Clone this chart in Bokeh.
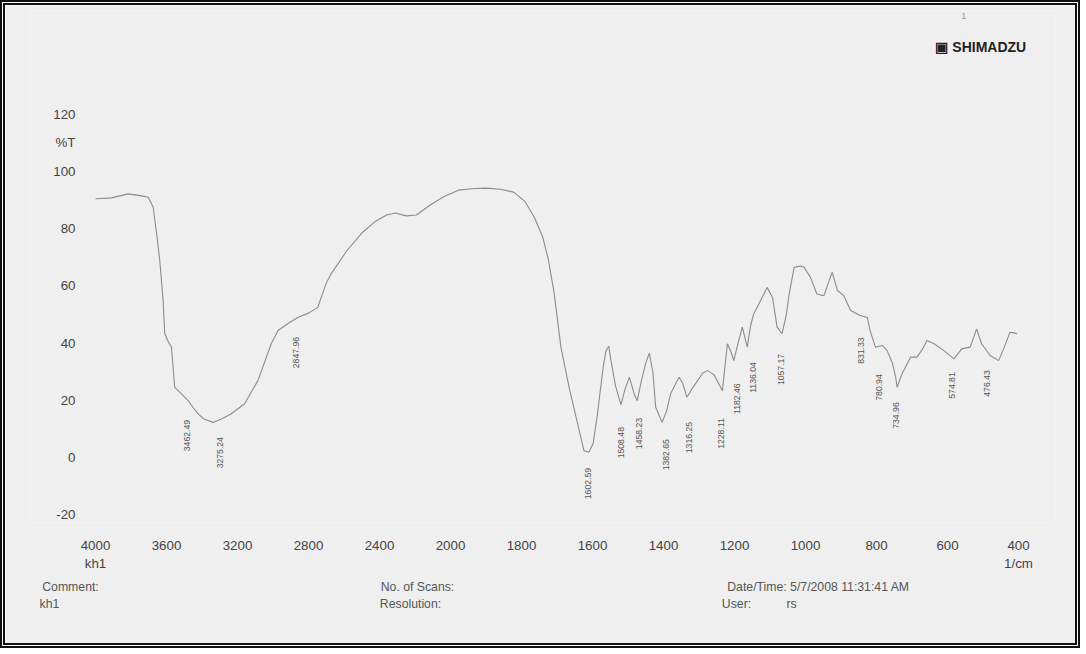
import math
from bokeh.plotting import figure
from bokeh.models import Label, FixedTicker, ColumnDataSource, Range1d, LinearAxis
from bokeh.core.properties import value
from bokeh.embed import file_html
from bokeh.resources import INLINE

# ---------------- data ----------------
wavenumber = [4000, 3910, 3816, 3740, 3703, 3675, 3655, 3638, 3619, 3610, 3590, 3572,
              3554, 3520, 3478, 3450, 3422, 3390, 3338, 3290, 3235, 3160, 3085, 3010,
              2972, 2900, 2860, 2800, 2748, 2700, 2672, 2583, 2500, 2425, 2360, 2309,
              2250, 2192, 2110, 2036, 1978, 1940, 1901, 1860, 1822, 1790, 1764, 1740,
              1725, 1708, 1689, 1665, 1638, 1624, 1610, 1598, 1586, 1570, 1562, 1554,
              1548, 1535, 1520, 1508, 1496, 1482, 1474, 1462, 1450, 1440, 1430, 1422,
              1404, 1392, 1380, 1366, 1356, 1346, 1334, 1320, 1304, 1290, 1276, 1258,
              1245, 1234, 1226, 1220, 1210, 1202, 1190, 1178, 1164, 1155, 1146, 1130,
              1108, 1093, 1080, 1066, 1054, 1046, 1032, 1015, 1004, 986, 968, 948,
              936, 925, 910, 892, 873, 846, 826, 818, 803, 784, 770, 755,
              746, 742, 728, 704, 686, 670, 658, 638, 610, 582, 560, 536,
              518, 504, 480, 456, 442, 424, 410, 404]
transmittance = [90.5, 90.8, 92.2, 91.5, 91.0, 87.5, 78.0, 68.9, 54.9, 43.3, 40.5, 38.6,
                 24.6, 22.5, 19.9, 17.5, 15.3, 13.5, 12.3, 13.5, 15.3, 18.8, 26.9, 39.8,
                 44.4, 47.5, 49.0, 50.5, 52.5, 61.0, 64.3, 72.4, 78.5, 82.5, 84.8, 85.5,
                 84.5, 84.8, 88.5, 91.3, 93.5, 94.0, 94.2, 93.8, 92.8, 89.5, 84.0, 77.0,
                 69.6, 57.5, 38.6, 24.0, 9.8, 2.4, 1.9, 5.0, 15.3, 31.6, 37.4, 38.9,
                 33.9, 25.0, 18.5, 24.0, 28.1, 22.0, 19.9, 27.0, 33.0, 36.5, 30.0, 17.6,
                 12.3, 16.0, 22.3, 25.8, 28.1, 26.0, 21.1, 24.0, 26.9, 29.5, 30.4, 29.0,
                 26.0, 23.4, 33.0, 39.8, 37.0, 33.9, 40.0, 45.6, 38.6, 46.0, 50.2, 54.0,
                 59.5, 56.0, 45.6, 43.3, 50.0, 57.2, 66.5, 67.0, 66.5, 63.0, 57.2, 56.6,
                 61.0, 64.8, 58.4, 56.6, 51.4, 49.7, 49.0, 44.4, 38.6, 39.2, 37.4, 33.0,
                 28.1, 24.6, 29.3, 35.1, 35.1, 38.0, 40.9, 39.8, 37.4, 34.5, 38.0, 38.6,
                 45.0, 39.8, 35.7, 33.9, 38.0, 43.8, 43.5, 43.3]

peak_labels = ["3462.49", "3275.24", "2847.96", "1602.59", "1508.48", "1458.23",
               "1382.65", "1316.25", "1228.11", "1182.46", "1136.04", "1057.17",
               "831.33", "780.94", "734.96", "574.81", "476.43"]
peak_label_level = [7.7, 1.7, 36.7, -9.1, 5.2, 8.4, 1.0, 7.0, 8.4, 20.6, 28.0, 30.8,
                    37.4, 24.5, 14.7, 25.2, 25.9]

x_tick_values = [4000, 3600, 3200, 2800, 2400, 2000, 1800, 1600, 1400, 1200, 1000, 800, 600, 400]
x_tick_labels = ["4000\nkh1", "3600", "3200", "2800", "2400", "2000", "1800", "1600",
                 "1400", "1200", "1000", "800", "600", "400\n1/cm"]
y_tick_values = [-20, 0, 20, 40, 60, 80, 100, 110, 120]
y_tick_labels = ["-20", "0", "20", "40", "60", "80", "100", "%T", "120"]

footer_line1 = ["Comment:", "No. of Scans:", "Date/Time: 5/7/2008 11:31:41 AM"]
footer_line2 = ["kh1", "Resolution:", "User:", "rs"]


# Shimadzu-style split abscissa: 400 cm-1 per division above 2000, 200 below
def wn_to_pos(w):
    if w >= 2000:
        return (4000 - w) / 400.0
    return 5 + (2000 - w) / 200.0


src = ColumnDataSource(dict(x=[wn_to_pos(w) for w in wavenumber], y=transmittance))
peak_src = ColumnDataSource(dict(x=[wn_to_pos(float(s)) for s in peak_labels],
                                 y=peak_label_level, text=peak_labels))

BG = "#efefef"
FONT = "'Liberation Sans Narrow', 'Liberation Sans', Arial, sans-serif"

# frame spans page x 30..1055 so the footer "Comment" block (left of the
# ordinate labels) lies inside the x range
p = figure(width=1080, height=648, output_backend="svg", toolbar_location=None,
           x_range=Range1d(-0.9155, 13.521), y_range=Range1d(-22.7, 156.3),
           min_border_left=25, min_border_right=30, min_border_top=5, min_border_bottom=131,
           background_fill_color=BG, border_fill_color=BG, outline_line_color=None,
           styles={"border": "5px double #111"})

p.xgrid.visible = False
p.ygrid.visible = False

p.line("x", "y", source=src, line_color="#8c8c8c", line_width=1.1)

p.text("x", "y", text="text", source=peak_src, angle=math.pi / 2,
       text_font=value(FONT), text_font_size="6.5pt", text_color="#555555",
       text_align="center", text_baseline="middle", x_offset=-4)


def style_axis(ax, size="10pt"):
    ax.axis_line_color = None
    ax.major_tick_line_color = None
    ax.minor_tick_line_color = None
    ax.major_tick_out = 0
    ax.major_tick_in = 0
    ax.minor_tick_out = 0
    ax.minor_tick_in = 0
    ax.major_label_text_font = FONT
    ax.major_label_text_font_size = size
    ax.major_label_text_color = "#444444"


style_axis(p.xaxis[0])
style_axis(p.yaxis[0])
p.xaxis[0].ticker = FixedTicker(ticks=[wn_to_pos(w) for w in x_tick_values])
p.xaxis[0].major_label_overrides = {wn_to_pos(w): t for w, t in zip(x_tick_values, x_tick_labels)}
p.xaxis[0].major_label_standoff = 15
p.yaxis[0].ticker = FixedTicker(ticks=y_tick_values)
p.yaxis[0].major_label_overrides = {v: t for v, t in zip(y_tick_values, y_tick_labels)}
p.yaxis[0].major_label_standoff = -45     # ordinate labels end at page x ~75

# footer rows of the printout, as extra label-only axes below the plot
PX = 71.0            # pixels per axis division (layout)
X0 = 95.0            # page pixel of 4000 cm-1 (layout)


def page_to_pos(px):
    return round((px - X0) / PX, 4)


foot1_pos = [page_to_pos(c) for c in (70, 417, 818)]
foot2_pos = [page_to_pos(c) for c in (49, 410, 736, 791)]
for labels, pos, standoff in ((footer_line1, foot1_pos, 6), (footer_line2, foot2_pos, 0)):
    ax = LinearAxis(ticker=FixedTicker(ticks=pos),
                    major_label_overrides={k: t for k, t in zip(pos, labels)},
                    major_label_standoff=standoff)
    style_axis(ax, size="9.2pt")
    ax.major_label_text_color = "#555555"
    p.add_layout(ax, "below")

p.add_layout(Label(x=11.83, y=143.7, text="▣ SHIMADZU", text_font=FONT,
                   text_font_size="10.5pt", text_color="#222222", text_font_style="bold",
                   text_baseline="middle", text_align="left"))
p.add_layout(Label(x=12.23, y=154.5, text="1", text_font=FONT,
                   text_font_size="7pt", text_color="#999999",
                   text_baseline="middle", text_align="center"))

open("out.html", "w").write(file_html(p, INLINE))
